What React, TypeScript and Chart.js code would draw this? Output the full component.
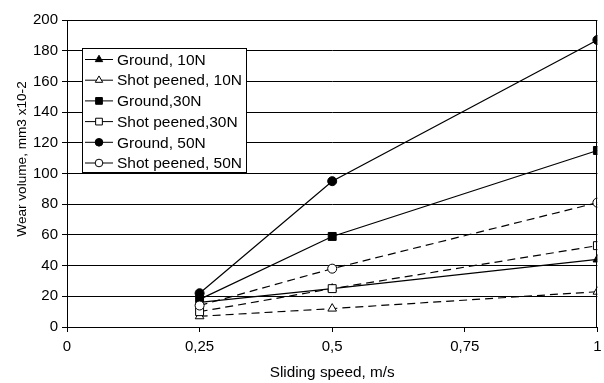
import React, { useEffect, useRef } from "react";
import { Chart, registerables } from "chart.js";

Chart.register(...registerables);

const speeds = [0.25, 0.5, 1];
const ground10 = [16, 25, 44];
const peened10 = [7, 12, 23];
const ground30 = [18, 59, 115];
const peened30 = [10, 25, 53];
const ground50 = [22, 95, 187];
const peened50 = [14, 38, 81];
const seriesNames = [
  "Ground, 10N",
  "Shot peened, 10N",
  "Ground,30N",
  "Shot peened,30N",
  "Ground, 50N",
  "Shot peened, 50N",
];
const xTitle = "Sliding speed, m/s";
const yTitle = "Wear volume, mm3 x10-2";

const FONT = "'Liberation Sans', Arial, sans-serif";

type Spec = { data: number[]; style: string; filled: boolean; dashed: boolean; r: number };
const specs: Spec[] = [
  { data: ground10, style: "triangle", filled: true, dashed: false, r: 5 },
  { data: peened10, style: "triangle", filled: false, dashed: true, r: 5 },
  { data: ground30, style: "rect", filled: true, dashed: false, r: 5.6 },
  { data: peened30, style: "rect", filled: false, dashed: true, r: 5.6 },
  { data: ground50, style: "circle", filled: true, dashed: false, r: 4.5 },
  { data: peened50, style: "circle", filled: false, dashed: true, r: 4.5 },
];

function drawMarker(ctx: CanvasRenderingContext2D, style: string, x: number, y: number, r: number, filled: boolean) {
  ctx.beginPath();
  if (style === "circle") {
    ctx.arc(x, y, r, 0, Math.PI * 2);
  } else if (style === "rect") {
    const h = r * Math.SQRT1_2;
    ctx.rect(x - h, y - h, 2 * h, 2 * h);
  } else {
    for (let i = 0; i < 3; i++) {
      const a = (i * 2 * Math.PI) / 3;
      const px = x + Math.sin(a) * r;
      const py = y - Math.cos(a) * r;
      if (i === 0) ctx.moveTo(px, py);
      else ctx.lineTo(px, py);
    }
    ctx.closePath();
  }
  ctx.fillStyle = filled ? "#000" : "#fff";
  ctx.fill();
  ctx.lineWidth = 1;
  ctx.strokeStyle = "#000";
  ctx.stroke();
}

const decorPlugin = {
  id: "decor",
  afterDraw(chart: any) {
    const ctx: CanvasRenderingContext2D = chart.ctx;
    const a = chart.chartArea;
    ctx.save();
    // plot border
    ctx.strokeStyle = "#000";
    ctx.lineWidth = 1;
    ctx.strokeRect(Math.round(a.left) + 0.5, Math.round(a.top) + 0.5, Math.round(a.right - a.left) - 1, Math.round(a.bottom - a.top));
    // legend
    const lx = 82, ly = 48, lw = 164, lh = 124;
    ctx.fillStyle = "#fff";
    ctx.fillRect(lx, ly, lw, lh);
    ctx.strokeRect(lx + 0.5, ly + 0.5, lw, lh);
    ctx.font = `15.5px ${FONT}`;
    ctx.textBaseline = "middle";
    ctx.textAlign = "left";
    seriesNames.forEach((name, i) => {
      const cy = 59.5 + i * 20.7;
      ctx.beginPath();
      ctx.setLineDash([]);
      ctx.moveTo(85, cy);
      ctx.lineTo(113, cy);
      ctx.strokeStyle = "#000";
      ctx.lineWidth = 1;
      ctx.stroke();
      drawMarker(ctx, specs[i].style, 99, cy, specs[i].r * 0.85, specs[i].filled);
      ctx.fillStyle = "#000";
      ctx.fillText(name, 117, cy + 1);
    });
    // axis titles
    ctx.textAlign = "center";
    ctx.fillStyle = "#000";
    ctx.font = `15.3px ${FONT}`;
    ctx.fillText(xTitle, (a.left + a.right) / 2, 373);
    ctx.font = `13.6px ${FONT}`;
    ctx.translate(22, 159);
    ctx.rotate(-Math.PI / 2);
    ctx.fillText(yTitle, 0, 0);
    ctx.restore();
  },
};

export default function App() {
  const ref = useRef<HTMLCanvasElement>(null);
  useEffect(() => {
    document.body.style.margin = "0";
    const canvas = ref.current!;
    const chart = new Chart(canvas, {
      type: "line",
      data: {
        datasets: specs.map((s, i) => ({
          label: seriesNames[i],
          data: speeds.map((x, j) => ({ x, y: s.data[j] })),
          order: specs.length - i,
          borderColor: "#000",
          borderWidth: 1.2,
          borderDash: s.dashed ? [8, 5] : [],
          pointStyle: s.style as any,
          pointRadius: s.r,
          pointHoverRadius: s.r,
          pointBackgroundColor: s.filled ? "#000" : "#fff",
          pointBorderColor: "#000",
          pointBorderWidth: 1,
          fill: false,
          tension: 0,
        })),
      },
      options: {
        animation: false,
        responsive: false,
        events: [],
        layout: { padding: { top: 20, right: 1, left: 0, bottom: 0 } },
        plugins: { legend: { display: false }, tooltip: { enabled: false }, title: { display: false } },
        scales: {
          x: {
            type: "linear",
            min: 0,
            max: 1,
            ticks: {
              stepSize: 0.25,
              color: "#000",
              font: { family: FONT, size: 15 },
              padding: 6,
              maxRotation: 0,
              autoSkip: false,
              callback: (v: any) => String(v).replace(".", ","),
            },
            grid: { drawOnChartArea: false, drawTicks: true, tickLength: 5, color: "#000" },
            border: { display: true, color: "#000", width: 1 },
            afterFit: (scale: any) => {
              scale.height = 56;
              scale.paddingLeft = 0;
              scale.paddingRight = 0;
            },
          },
          y: {
            min: 0,
            max: 200,
            ticks: {
              stepSize: 20,
              color: "#000",
              font: { family: FONT, size: 15 },
              padding: 4,
            },
            grid: { drawOnChartArea: true, drawTicks: true, tickLength: 5, color: "#000", lineWidth: 1 },
            border: { display: true, color: "#000", width: 1 },
            afterFit: (scale: any) => {
              scale.width = 67;
              scale.paddingTop = 0;
              scale.paddingBottom = 0;
            },
          },
        },
      },
      plugins: [decorPlugin],
    } as any);
    return () => chart.destroy();
  }, []);
  return (
    <div style={{ width: 604, height: 383 }}>
      <canvas ref={ref} width={604} height={383} style={{ display: "block" }} />
    </div>
  );
}
